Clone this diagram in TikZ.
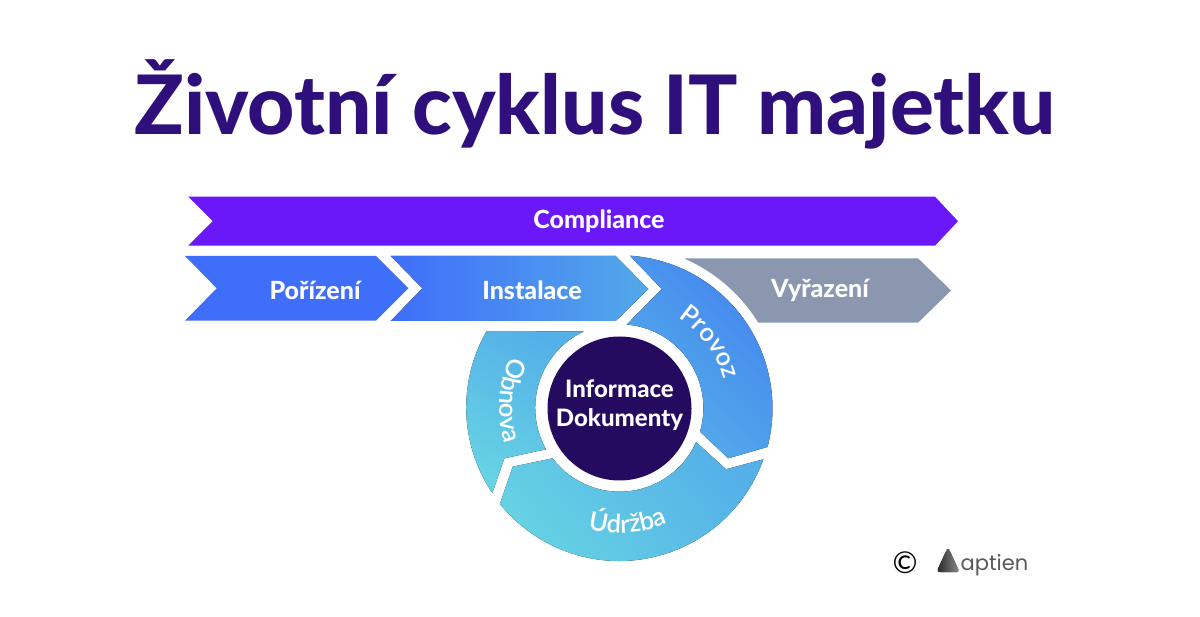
\documentclass[tikz,border=0pt]{standalone}
\usepackage{fontspec}
\setmainfont{Lato}[BoldFont={Lato Heavy}]
\newfontfamily\logofont{Poppins}
\newfontfamily\curvefont{Lato Semibold}
\usetikzlibrary{decorations.text}
\definecolor{titlecol}{HTML}{2E0F7C}
\definecolor{compl}{HTML}{6A17FA}
\definecolor{blueA}{HTML}{3F6EFA}
\definecolor{blueB}{HTML}{53A9EA}
\definecolor{blueC}{HTML}{4485F0}
\definecolor{blueD}{HTML}{55B0E8}
\definecolor{cyanA}{HTML}{66D3E3}
\definecolor{greyV}{HTML}{8A97AF}
\definecolor{core}{HTML}{240B60}
\tikzset{
  lab/.style={text=white,font=\fontsize{25}{28}\selectfont\bfseries,inner sep=0pt},
  curved/.style={decorate,decoration={text along path,text align=center,
     text={|\curvefont\fontsize{25.5}{28}\selectfont\color{white}|#1}}}
}
\begin{document}
\begin{tikzpicture}[x=1pt,y=1pt]
\useasboundingbox (0,0) rectangle (1200,-617);
\fill[white] (0,0) rectangle (1200,-617);
\node[text=titlecol,font=\fontsize{82}{100}\selectfont\bfseries,inner sep=0pt] (title) at (595,-104) {Životní cyklus IT majetku};
% compliance
\fill[compl] (188.3,-196.7) -- (935,-196.7) -- (958,-221.2) -- (935,-245.7) -- (188.3,-245.7) -- (212.7,-221.2) -- cycle;
\node[lab] (compliance) at (599,-221) {Compliance};
% pořízení
\fill[blueA] (185,-256) -- (376,-256) -- (408.3,-288.3) -- (376,-320.7) -- (185,-320.7) -- (216.7,-288.3) -- cycle;
\node[lab] (porizeni) at (315,-290) {Pořízení};
% instalace
\fill[left color=blueA,right color=blueB] (390.7,-256) -- (615.7,-256) -- (648.3,-289) -- (615.7,-321) -- (390.7,-321) -- (422.3,-288.3) -- cycle;
\node[lab] (instalace) at (532,-290) {Instalace};
% vyřazení
\fill[greyV] (685,-258.3) -- (918,-258.3) -- (951,-290.5) -- (918,-322.7) -- (758.3,-322.7) arc[start angle=31.6,end angle=66.4,radius=163] -- cycle;
\node[lab] (vyrazeni) at (820,-290) {Vyřazení};
% provoz
\fill[shading=axis,left color=blueC,right color=blueD,shading angle=-45]
  (630,-255.7) arc[start angle=86.06,end angle=-14.6,radius=153] -- (728.3,-458.3) -- (700,-431.7)
  arc[start angle=-16.4,end angle=85.1,radius=83.8] -- (661.7,-289) -- cycle;
% údržba
\fill[shading=axis,left color=cyanA,right color=blueD,shading angle=130]
  (763.3,-459.3) arc[start angle=-19.6,end angle=-141.2,radius=153] -- (512.7,-466.7) -- (552.7,-458.3)
  arc[start angle=-143,end angle=-24.1,radius=83.8] -- (726,-469.3) -- cycle;
% obnova
\fill[shading=axis,left color=cyanA,right color=blueD,shading angle=150]
  (486.7,-331) arc[start angle=150,end angle=214,radius=153] -- (504.3,-458.3) -- (546,-449.3)
  arc[start angle=209.3,end angle=115.2,radius=84.5] -- cycle;
% centre
\fill[core] (619.5,-408.5) circle[radius=72];
\node[lab,align=center,font=\fontsize{24}{29}\selectfont\bfseries] (info) at (619.5,-405) {Informace\\Dokumenty};
% curved labels
\path[curved=Provoz] (619.5,-408)++(62:108) arc[start angle=62,end angle=10,radius=108];
\path[curved=Obnova] (619.5,-408)++(153:120) arc[start angle=153,end angle=199,radius=120];
\path[curved=Údržba] (619.5,-408)++(250:125) arc[start angle=250,end angle=298,radius=125];
% logo
\node[text=black,font=\fontsize{30}{32}\selectfont,inner sep=0pt] (copy) at (905,-563) {©};
\fill[left color=black!85,right color=black!45,rounded corners=3pt] (936.5,-572) -- (947,-549) -- (949,-549) -- (959.5,-572) -- cycle;
\node[text=black!65,font=\logofont\fontsize{21}{24}\selectfont,inner sep=0pt,anchor=base west] (aptien) at (960.5,-570) {aptien};
\end{tikzpicture}
\end{document}
